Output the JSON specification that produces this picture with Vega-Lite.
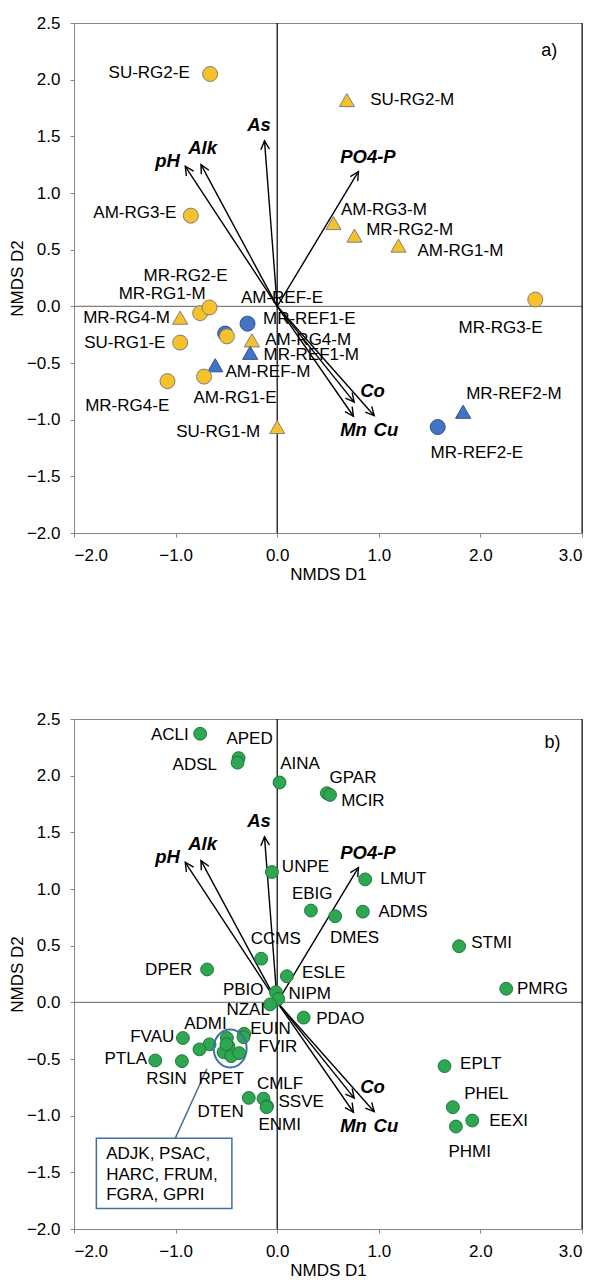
{
"$schema":"https://vega.github.io/schema/vega-lite/v6.json",
"padding":{"left":7,"top":13,"right":0,"bottom":0},
"spacing":126,
"config":{"font":"Liberation Sans","view":{"stroke":"#868686","strokeWidth":1},
 "axis":{"labelFontSize":17,"titleFontSize":17,"titleFontWeight":"normal","labelColor":"#000","titleColor":"#000","domainColor":"#868686","tickColor":"#868686","grid":false,"tickSize":4,"labelPadding":10,"titlePadding":0},
 "axisX":{"titlePadding":3},
 "text":{"fontSize":17,"align":"left","baseline":"middle","color":"#000"}},
"datasets":{
"pa":[
{"name":"SU-RG2-E","x":-0.66,"y":2.05,"grp":"RG","shp":"E","lx":-1.66,"ly":2.06},
{"name":"SU-RG2-M","x":0.686,"y":1.82,"grp":"RG","shp":"M","lx":0.915,"ly":1.82},
{"name":"AM-RG3-E","x":-0.85,"y":0.80,"grp":"RG","shp":"E","lx":-1.81,"ly":0.82},
{"name":"AM-RG3-M","x":0.554,"y":0.735,"grp":"RG","shp":"M","lx":0.627,"ly":0.847},
{"name":"MR-RG2-M","x":0.761,"y":0.624,"grp":"RG","shp":"M","lx":0.876,"ly":0.677},
{"name":"AM-RG1-M","x":1.194,"y":0.536,"grp":"RG","shp":"M","lx":1.38,"ly":0.49},
{"name":"MR-RG3-E","x":2.54,"y":0.06,"grp":"RG","shp":"E","lx":1.785,"ly":-0.19},
{"name":"MR-REF2-M","x":1.83,"y":-0.93,"grp":"REF","shp":"M","lx":1.86,"ly":-0.77},
{"name":"MR-REF2-E","x":1.58,"y":-1.065,"grp":"REF","shp":"E","lx":1.51,"ly":-1.29},
{"name":"MR-RG4-M","x":-0.955,"y":-0.10,"grp":"RG","shp":"M","lx":-1.91,"ly":-0.10},
{"name":"MR-RG1-M","x":-0.758,"y":-0.06,"grp":"RG","shp":"E","lx":-1.56,"ly":0.11},
{"name":"MR-RG2-E","x":-0.666,"y":-0.01,"grp":"RG","shp":"E","lx":-1.316,"ly":0.27},
{"name":"SU-RG1-E","x":-0.955,"y":-0.32,"grp":"RG","shp":"E","lx":-1.90,"ly":-0.325},
{"name":"AM-REF-E","x":-0.512,"y":-0.24,"grp":"REF","shp":"E","lx":-0.357,"ly":0.073},
{"name":"AM-RG4-E","x":-0.495,"y":-0.265,"grp":"RG","shp":"E","lx":null,"ly":null},
{"name":"MR-REF1-E","x":-0.292,"y":-0.153,"grp":"REF","shp":"E","lx":-0.14,"ly":-0.115},
{"name":"AM-RG4-M","x":-0.249,"y":-0.30,"grp":"RG","shp":"M","lx":-0.118,"ly":-0.295},
{"name":"MR-REF1-M","x":-0.266,"y":-0.41,"grp":"REF","shp":"M","lx":-0.135,"ly":-0.425},
{"name":"AM-REF-M","x":-0.61,"y":-0.52,"grp":"REF","shp":"M","lx":-0.51,"ly":-0.58},
{"name":"AM-RG1-E","x":-0.72,"y":-0.62,"grp":"RG","shp":"E","lx":-0.824,"ly":-0.81},
{"name":"MR-RG4-E","x":-1.08,"y":-0.66,"grp":"RG","shp":"E","lx":-1.89,"ly":-0.875},
{"name":"SU-RG1-M","x":0.0,"y":-1.065,"grp":"RG","shp":"M","lx":-0.994,"ly":-1.11}
],
"arrows":[
{"v":"pH","x":-0.905,"y":1.235,"lx":-1.20,"ly":1.28},
{"v":"Alk","x":-0.75,"y":1.25,"lx":-0.876,"ly":1.40},
{"v":"As","x":-0.125,"y":1.46,"lx":-0.295,"ly":1.60},
{"v":"PO4-P","x":0.80,"y":1.19,"lx":0.62,"ly":1.32},
{"v":"Co","x":0.758,"y":-0.845,"lx":0.817,"ly":-0.745},
{"v":"Mn","x":0.751,"y":-0.97,"lx":0.62,"ly":-1.09},
{"v":"Cu","x":0.955,"y":-0.965,"lx":0.948,"ly":-1.09}
],
"pb":[
{"name":"ACLI","x":-0.758,"y":2.37,"lx":-1.243,"ly":2.36},
{"name":"APED","x":-0.38,"y":2.155,"lx":-0.50,"ly":2.32},
{"name":"ADSL","x":-0.39,"y":2.115,"lx":-1.03,"ly":2.095},
{"name":"AINA","x":0.023,"y":1.94,"lx":0.03,"ly":2.10},
{"name":"GPAR","x":0.489,"y":1.845,"lx":0.515,"ly":1.98},
{"name":"MCIR","x":0.52,"y":1.83,"lx":0.63,"ly":1.78},
{"name":"UNPE","x":-0.052,"y":1.15,"lx":0.046,"ly":1.19},
{"name":"LMUT","x":0.866,"y":1.085,"lx":1.014,"ly":1.09},
{"name":"EBIG","x":0.332,"y":0.81,"lx":0.145,"ly":0.96},
{"name":"DMES","x":0.571,"y":0.76,"lx":0.52,"ly":0.57},
{"name":"ADMS","x":0.843,"y":0.80,"lx":0.997,"ly":0.80},
{"name":"STMI","x":1.79,"y":0.495,"lx":1.91,"ly":0.52},
{"name":"PMRG","x":2.254,"y":0.12,"lx":2.36,"ly":0.115},
{"name":"ESLE","x":0.095,"y":0.23,"lx":0.243,"ly":0.26},
{"name":"CCMS","x":-0.157,"y":0.385,"lx":-0.26,"ly":0.557},
{"name":"DPER","x":-0.69,"y":0.29,"lx":-1.30,"ly":0.283},
{"name":"PBIO","x":-0.013,"y":0.09,"lx":-0.534,"ly":0.11},
{"name":"NIPM","x":0.01,"y":0.03,"lx":0.11,"ly":0.07},
{"name":"NZAL","x":-0.07,"y":-0.018,"lx":-0.50,"ly":-0.07},
{"name":"PDAO","x":0.26,"y":-0.135,"lx":0.384,"ly":-0.15},
{"name":"EUIN","x":-0.325,"y":-0.277,"lx":-0.266,"ly":-0.233},
{"name":"FVIR","x":-0.332,"y":-0.307,"lx":-0.184,"ly":-0.395},
{"name":"ADMI","x":-0.666,"y":-0.371,"lx":-0.915,"ly":-0.19},
{"name":"RPET","x":-0.765,"y":-0.415,"lx":-0.775,"ly":-0.673},
{"name":"FVAU","x":-0.928,"y":-0.315,"lx":-1.447,"ly":-0.307},
{"name":"PTLA","x":-1.20,"y":-0.513,"lx":-1.70,"ly":-0.498},
{"name":"RSIN","x":-0.938,"y":-0.519,"lx":-1.29,"ly":-0.673},
{"name":"ADJK","x":-0.495,"y":-0.315,"lx":null,"ly":null},
{"name":"PSAC","x":-0.479,"y":-0.389,"lx":null,"ly":null},
{"name":"HARC","x":-0.528,"y":-0.44,"lx":null,"ly":null},
{"name":"FRUM","x":-0.453,"y":-0.475,"lx":null,"ly":null},
{"name":"FGRA","x":-0.374,"y":-0.448,"lx":null,"ly":null},
{"name":"GPRI","x":-0.50,"y":-0.37,"lx":null,"ly":null},
{"name":"DTEN","x":-0.28,"y":-0.843,"lx":-0.785,"ly":-0.97},
{"name":"CMLF","x":-0.135,"y":-0.85,"lx":-0.20,"ly":-0.72},
{"name":"SSVE","x":-0.10,"y":-0.917,"lx":0.013,"ly":-0.875},
{"name":"ENMI","x":-0.105,"y":-0.925,"lx":-0.184,"ly":-1.08},
{"name":"EPLT","x":1.647,"y":-0.563,"lx":1.80,"ly":-0.542},
{"name":"PHEL","x":1.729,"y":-0.925,"lx":1.84,"ly":-0.807},
{"name":"EEXI","x":1.92,"y":-1.043,"lx":2.087,"ly":-1.043},
{"name":"PHMI","x":1.759,"y":-1.096,"lx":1.686,"ly":-1.317}
],
"boxtext":[
{"t":"ADJK, PSAC,","lx":-1.683,"ly":-1.338},
{"t":"HARC, FRUM,","lx":-1.683,"ly":-1.523},
{"t":"FGRA, GPRI","lx":-1.683,"ly":-1.698}
]
},
"vconcat":[
{
"width":508,"height":510,
"layer":[
{"data":{"values":[{}]},"mark":{"type":"rule","color":"#7F7F7F","strokeWidth":1.2},
 "encoding":{"y":{"datum":0,"type":"quantitative","scale":{"domain":[-2,2.5],"nice":false,"zero":false},"axis":{"title":"NMDS D2","values":[-2,-1.5,-1,-0.5,0,0.5,1,1.5,2,2.5],"format":".1f"}}}},
{"data":{"values":[{}]},"mark":{"type":"rule","color":"#000","strokeWidth":1.2},
 "encoding":{"x":{"datum":0,"type":"quantitative","scale":{"domain":[-2,3],"nice":false,"zero":false},"axis":{"title":"NMDS D1","values":[-2,-1,0,1,2,3],"format":".1f"}}}},
{"data":{"values":[{}]},"mark":{"type":"rule","color":"#000","strokeWidth":1},
 "encoding":{"x":{"datum":3,"type":"quantitative"}}},
{"data":{"name":"arrows"},"mark":{"type":"rule","color":"#000","strokeWidth":1.4},
 "encoding":{"x":{"field":"x","type":"quantitative","title":"NMDS D1"},"y":{"field":"y","type":"quantitative","title":"NMDS D2"},"x2":{"datum":0},"y2":{"datum":0}}},
{"data":{"name":"arrows"},"transform":[{"calculate":"(atan2(datum.x*101.6, datum.y*113.3)*180/PI + 360) % 360","as":"ang"}],
 "mark":{"type":"point","shape":"M-0.5,1L0,0L0.5,1","filled":false,"stroke":"#000","strokeWidth":1.4,"size":300,"opacity":1},
 "encoding":{"x":{"field":"x","type":"quantitative","title":"NMDS D1"},"y":{"field":"y","type":"quantitative","title":"NMDS D2"},"angle":{"field":"ang","type":"quantitative","scale":null}}},
{"data":{"name":"pa"},"mark":{"type":"point","filled":true,"opacity":1,"strokeWidth":1},
 "encoding":{"x":{"field":"x","type":"quantitative","title":"NMDS D1"},"y":{"field":"y","type":"quantitative","title":"NMDS D2"},
  "shape":{"field":"shp","type":"nominal","scale":{"domain":["E","M"],"range":["circle","triangle-up"]},"legend":null},
  "size":{"field":"shp","type":"nominal","scale":{"domain":["E","M"],"range":[225,230]},"legend":null},
  "color":{"field":"grp","type":"nominal","scale":{"domain":["RG","REF"],"range":["#F7C12C","#4472C4"]},"legend":null},
  "stroke":{"field":"grp","type":"nominal","scale":{"domain":["RG","REF"],"range":["#7F7F7F","#2F528F"]},"legend":null}}},
{"data":{"name":"pa"},"transform":[{"filter":"datum.lx != null"}],"mark":{"type":"text"},
 "encoding":{"x":{"field":"lx","type":"quantitative","title":"NMDS D1"},"y":{"field":"ly","type":"quantitative","title":"NMDS D2"},"text":{"field":"name"}}},
{"data":{"name":"arrows"},"mark":{"type":"text","fontWeight":"bold","fontStyle":"italic","fontSize":18.5},
 "encoding":{"x":{"field":"lx","type":"quantitative","title":"NMDS D1"},"y":{"field":"ly","type":"quantitative","title":"NMDS D2"},"text":{"field":"v"}}},
{"data":{"values":[{"t":"a)"}]},"mark":{"type":"text","fontSize":18},
 "encoding":{"x":{"datum":2.6},"y":{"datum":2.25},"text":{"field":"t"}}}
]
},
{
"width":508,"height":510,
"layer":[
{"data":{"values":[{}]},"mark":{"type":"rule","color":"#7F7F7F","strokeWidth":1.2},
 "encoding":{"y":{"datum":0,"type":"quantitative","scale":{"domain":[-2,2.5],"nice":false,"zero":false},"axis":{"title":"NMDS D2","values":[-2,-1.5,-1,-0.5,0,0.5,1,1.5,2,2.5],"format":".1f"}}}},
{"data":{"values":[{}]},"mark":{"type":"rule","color":"#000","strokeWidth":1.2},
 "encoding":{"x":{"datum":0,"type":"quantitative","scale":{"domain":[-2,3],"nice":false,"zero":false},"axis":{"title":"NMDS D1","values":[-2,-1,0,1,2,3],"format":".1f"}}}},
{"data":{"values":[{}]},"mark":{"type":"rule","color":"#000","strokeWidth":1},
 "encoding":{"x":{"datum":3,"type":"quantitative"}}},
{"data":{"name":"arrows"},"mark":{"type":"rule","color":"#000","strokeWidth":1.4},
 "encoding":{"x":{"field":"x","type":"quantitative","title":"NMDS D1"},"y":{"field":"y","type":"quantitative","title":"NMDS D2"},"x2":{"datum":0},"y2":{"datum":0}}},
{"data":{"name":"arrows"},"transform":[{"calculate":"(atan2(datum.x*101.6, datum.y*113.1)*180/PI + 360) % 360","as":"ang"}],
 "mark":{"type":"point","shape":"M-0.5,1L0,0L0.5,1","filled":false,"stroke":"#000","strokeWidth":1.4,"size":300,"opacity":1},
 "encoding":{"x":{"field":"x","type":"quantitative","title":"NMDS D1"},"y":{"field":"y","type":"quantitative","title":"NMDS D2"},"angle":{"field":"ang","type":"quantitative","scale":null}}},
{"data":{"name":"pb"},"mark":{"type":"point","filled":true,"opacity":1,"strokeWidth":1,"size":165,"color":"#2EA652","stroke":"#1D7A3A"},
 "encoding":{"x":{"field":"x","type":"quantitative","title":"NMDS D1"},"y":{"field":"y","type":"quantitative","title":"NMDS D2"}}},
{"data":{"values":[{"x":-0.463,"y":-0.407}]},"mark":{"type":"point","shape":"M-0.868,0A0.868,1,0,1,1,0.868,0A0.868,1,0,1,1,-0.868,0Z","filled":false,"stroke":"#41719C","strokeWidth":2,"size":1444,"opacity":1},
 "encoding":{"x":{"field":"x","type":"quantitative","title":"NMDS D1"},"y":{"field":"y","type":"quantitative","title":"NMDS D2"}}},
{"data":{"values":[{"x":-0.692,"y":-0.586,"x2":-1.004,"y2":-1.20}]},"mark":{"type":"rule","color":"#41719C","strokeWidth":1.5},
 "encoding":{"x":{"field":"x","type":"quantitative","title":"NMDS D1"},"y":{"field":"y","type":"quantitative","title":"NMDS D2"},"x2":{"field":"x2"},"y2":{"field":"y2"}}},
{"data":{"values":[{"x":-1.78,"x2":-0.446,"y":-1.20,"y2":-1.819}]},"mark":{"type":"rect","fill":"#fff","stroke":"#41719C","strokeWidth":1.5},
 "encoding":{"x":{"field":"x","type":"quantitative","title":"NMDS D1"},"y":{"field":"y","type":"quantitative","title":"NMDS D2"},"x2":{"field":"x2"},"y2":{"field":"y2"}}},
{"data":{"name":"boxtext"},"mark":{"type":"text"},
 "encoding":{"x":{"field":"lx","type":"quantitative","title":"NMDS D1"},"y":{"field":"ly","type":"quantitative","title":"NMDS D2"},"text":{"field":"t"}}},
{"data":{"name":"pb"},"transform":[{"filter":"datum.lx != null"}],"mark":{"type":"text"},
 "encoding":{"x":{"field":"lx","type":"quantitative","title":"NMDS D1"},"y":{"field":"ly","type":"quantitative","title":"NMDS D2"},"text":{"field":"name"}}},
{"data":{"name":"arrows"},"mark":{"type":"text","fontWeight":"bold","fontStyle":"italic","fontSize":18.5},
 "encoding":{"x":{"field":"lx","type":"quantitative","title":"NMDS D1"},"y":{"field":"ly","type":"quantitative","title":"NMDS D2"},"text":{"field":"v"}}},
{"data":{"values":[{"t":"b)"}]},"mark":{"type":"text","fontSize":18},
 "encoding":{"x":{"datum":2.63},"y":{"datum":2.29},"text":{"field":"t"}}}
]
}
]
}
